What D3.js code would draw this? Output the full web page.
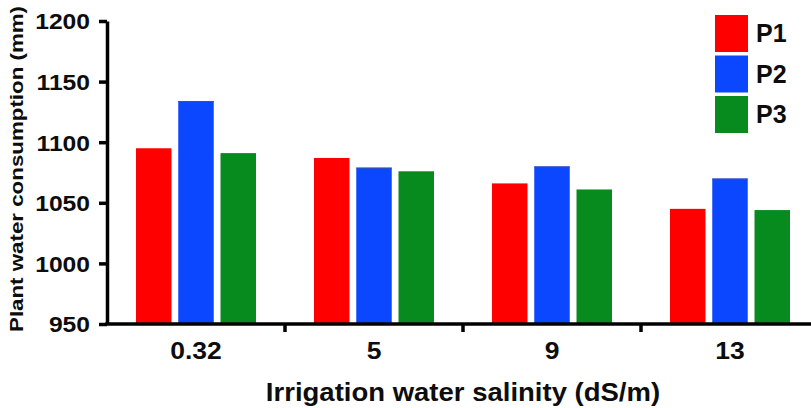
<!doctype html>
<html>
<head>
<meta charset="UTF-8">
<title>Plant water consumption</title>
<script src="https://d3js.org/d3.v7.min.js"></script>
<style>
  body { margin: 0; background: #fff; }
  text { font-family: "Liberation Sans", Arial, sans-serif; font-weight: bold; fill: #0d0d0d; }
</style>
</head>
<body>
<svg id="chart" width="811" height="408"></svg>
<script>
// data
var salinity = ["0.32", "5", "9", "13"];
var series = ["P1", "P2", "P3"];
var p1 = [1095, 1087, 1066, 1045];
var p2 = [1134, 1079, 1080, 1070];
var p3 = [1091, 1076, 1061, 1044];
var yTicks = [950, 1000, 1050, 1100, 1150, 1200];
var colors = ["#ff0000", "#0a47ff", "#078a1e"];

var values = [p1, p2, p3];
var rows = salinity.map(function(s, i) {
    return { cat: s, vals: series.map(function(p, j) { return { key: p, v: values[j][i] }; }) };
});

var svg = d3.select("#chart");
var mLeft = 107, mRight = 819, mTop = 21, mBottom = 324;

var x0 = d3.scaleBand().domain(salinity).range([mLeft, mRight]).padding(0);
var x1 = d3.scaleBand().domain(series).range([29, 149]).paddingInner(0.16);
var y = d3.scaleLinear().domain([950, 1200]).range([mBottom, mTop]);
var color = d3.scaleOrdinal().domain(series).range(colors);

// the text in the picture looks a bit wider than the font
function stretch(sel, k) {
    sel.each(function() {
        var w = this.getComputedTextLength();
        d3.select(this).attr("textLength", w * k).attr("lengthAdjust", "spacingAndGlyphs");
    });
}

// bars
var g = svg.selectAll("g.grp").data(rows).enter().append("g")
    .attr("class", "grp")
    .attr("transform", function(d) { return "translate(" + x0(d.cat) + ",0)"; });
g.selectAll("rect").data(function(d) { return d.vals; }).enter().append("rect")
    .attr("x", function(d) { return x1(d.key); })
    .attr("y", function(d) { return y(d.v); })
    .attr("width", x1.bandwidth())
    .attr("height", function(d) { return mBottom - y(d.v); })
    .attr("fill", function(d) { return color(d.key); });
// thin darker cap on the P2 bars
g.selectAll("line.cap").data(function(d) { return d.vals.filter(function(v) { return v.key == "P2"; }); })
    .enter().append("line").attr("class", "cap")
    .attr("x1", function(d) { return x1(d.key); })
    .attr("x2", function(d) { return x1(d.key) + x1.bandwidth(); })
    .attr("y1", function(d) { return y(d.v) + 0.5; })
    .attr("y2", function(d) { return y(d.v) + 0.5; })
    .attr("stroke", "#3a4fa8").attr("stroke-width", 1);

// y axis
var yAxis = svg.append("g").attr("transform", "translate(" + mLeft + ",0)")
    .call(d3.axisLeft(y).tickValues(yTicks).tickFormat(d3.format("d")).tickSize(8).tickPadding(9).tickSizeOuter(0));
yAxis.select(".domain").attr("stroke", "#000").attr("stroke-width", 3.5);
yAxis.selectAll(".tick line").attr("stroke", "#000").attr("stroke-width", 3.5);
yAxis.selectAll(".tick text").attr("font-family", null).attr("font-size", null)
    .style("font-size", "22px").attr("fill", "#0d0d0d").attr("dy", "0.36em")
    .call(stretch, 1.12);

// x axis: ticks sit between groups
var xAxis = svg.append("g").attr("transform", "translate(0," + mBottom + ")");
xAxis.append("line").attr("x1", mLeft - 1.75).attr("x2", 811).attr("stroke", "#000").attr("stroke-width", 3.5);
xAxis.selectAll("line.tk").data(salinity.slice(1)).enter().append("line")
    .attr("class", "tk")
    .attr("x1", function(d) { return x0(d); }).attr("x2", function(d) { return x0(d); })
    .attr("y1", 0).attr("y2", 8)
    .attr("stroke", "#000").attr("stroke-width", 3.5);
xAxis.selectAll("text").data(salinity).enter().append("text")
    .attr("x", function(d) { return x0(d) + x0.bandwidth() / 2; })
    .attr("y", 35)
    .attr("text-anchor", "middle")
    .style("font-size", "23px")
    .text(function(d) { return d; })
    .call(stretch, 1.15);

// axis titles
svg.append("text").attr("x", 463).attr("y", 401).attr("text-anchor", "middle")
    .style("font-size", "25px").text("Irrigation water salinity (dS/m)")
    .call(stretch, 1.1);
svg.append("text").attr("transform", "translate(23,169) rotate(-90)").attr("text-anchor", "middle")
    .style("font-size", "18px").text("Plant water consumption (mm)")
    .attr("textLength", 326).attr("lengthAdjust", "spacingAndGlyphs");

// legend
var leg = svg.selectAll("g.leg").data(series).enter().append("g")
    .attr("class", "leg")
    .attr("transform", function(d, i) { return "translate(715," + (15 + i * 40.5) + ")"; });
leg.append("rect").attr("width", 33).attr("height", 37).attr("fill", function(d) { return color(d); });
leg.append("text").attr("x", 41).attr("y", 27).style("font-size", "25px").text(function(d) { return d; });
</script>
</body>
</html>
